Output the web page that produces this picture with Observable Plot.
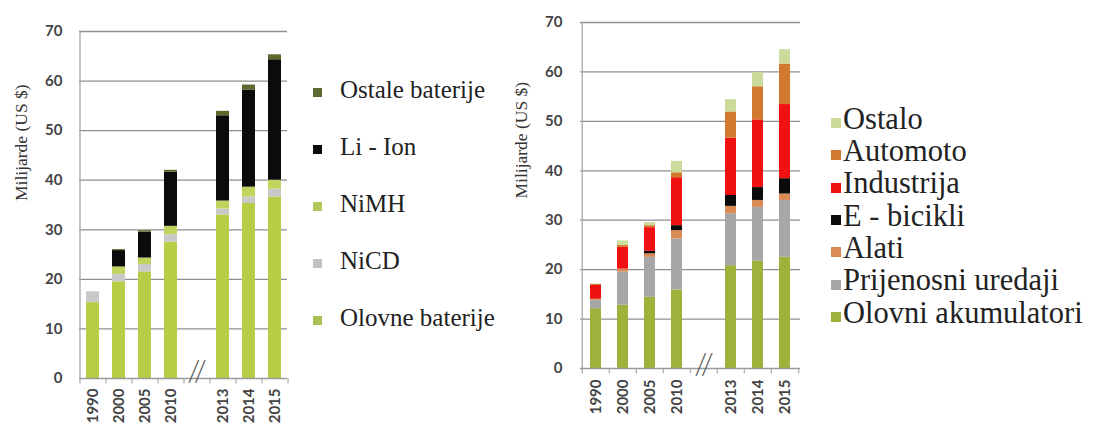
<!DOCTYPE html>
<html><head><meta charset="utf-8">
<script src="https://cdn.jsdelivr.net/npm/d3@7"></script>
<script src="https://cdn.jsdelivr.net/npm/@observablehq/plot@0.6"></script>
<style>
body{margin:0;background:#fff;width:1094px;height:426px;position:relative;overflow:hidden;}
#left{position:absolute;left:0;top:0;}
#right{position:absolute;left:500px;top:0;}
.legend{position:absolute;left:0;top:0;color:#222;}
.item{position:absolute;white-space:nowrap;line-height:1;}
.sw{position:absolute;}
</style></head><body>
<div id="left"></div><div id="right"></div>
<div id="legL" class="legend"></div><div id="legR" class="legend"></div>
<script>
const SERIF = "'Liberation Serif', serif";

// categories (BREAK = the empty slot with the "//" axis break)
const BREAK = "break";
const years = ["1990","2000","2005","2010",BREAK,"2013","2014","2015"];
const yTicks = [0,10,20,30,40,50,60,70];
const yLabel = "Milijarde (US $)";

// left chart: batteries by chemistry (bottom -> top)
const leftSeries = ["Olovne baterije","NiCD","NiMH","Li - Ion","Ostale baterije"];
const leftColors = ["#b6cd45","#c9c9c9","#c2d45e","#0b0b0b","#5c6a2e"];
const leftSwatch = ["#a9c052","#c2c2c2","#b3c85a","#0b0b0b","#5c6a30"];
const olovne = [15.3,19.5,21.5,27.5,null,33.0,35.3,36.6];
const nicd   = [2.2,1.5,1.5,1.5,null,1.2,1.3,1.6];
const nimh   = [0,1.5,1.3,1.7,null,1.6,2.0,1.8];
const liion  = [0,3.3,5.2,10.9,null,17.2,19.6,24.3];
const ostaleB= [0,0.2,0.3,0.4,null,0.9,1.0,1.0];
const leftValues = [olovne,nicd,nimh,liion,ostaleB];

// right chart: by application (bottom -> top)
const rightSeries = ["Olovni akumulatori","Prijenosni uredaji","Alati","E - bicikli","Industrija","Automoto","Ostalo"];
const rightColors = ["#9cb23a","#a7a7a7","#da8a55","#0b0b0b","#f01212","#d17a2e","#cbdb9c"];
const olovni = [12.1,12.8,14.4,15.9,null,20.8,21.7,22.5];
const prij   = [1.7,6.7,8.1,10.3,null,10.5,10.9,11.5];
const alati  = [0.2,0.6,0.7,1.7,null,1.5,1.4,1.3];
const ebic   = [0,0,0.5,1.0,null,2.2,2.6,3.1];
const ind    = [2.8,4.4,4.8,9.7,null,11.6,13.7,15.0];
const auto   = [0.2,0.4,0.4,1.0,null,5.3,6.7,8.2];
const ostalo = [0.1,0.9,0.6,2.3,null,2.5,2.9,2.9];
const rightValues = [olovni,prij,alati,ebic,ind,auto,ostalo];

function toLong(series, values){
  const out = [];
  series.forEach((s,si)=>years.forEach((y,yi)=>{
    const v = values[si][yi];
    if (y !== BREAK && v != null) out.push({year:y, series:s, value:v});
  }));
  return out;
}

function chart(o){
  const data = toLong(o.series, o.values);
  const step = (o.width - o.ml - o.mr) / years.length;
  const real = years.filter(y=>y!==BREAK);
  return Plot.plot({
    width:o.width, height:426, marginLeft:o.ml, marginRight:o.mr, marginTop:o.mt, marginBottom:o.mb,
    style:{background:"transparent", fontFamily:"Lato, 'Open Sans', sans-serif"},
    x:{domain:years, paddingInner:o.pi, paddingOuter:o.pi/2, label:null},
    y:{domain:[0,70], label:null},
    color:{domain:o.series, range:o.colors},
    marks:[
      Plot.ruleY(yTicks.filter(t=>t>0), {stroke:"#8f8f8f", strokeWidth:1.3}),
      Plot.barY(data, {x:"year", y:"value", fill:"series", order:o.series}),
      Plot.ruleY([0], {stroke:"#9a9a9a", strokeWidth:1.3}),
      Plot.ruleX([years[0]], {dx:-step/2, y1:0, y2:70, stroke:"#a8a8a8", strokeWidth:1.3}),
      Plot.ruleX(years, {dx:-step/2, y1:0, y2:-1.1, stroke:"#9a9a9a"}),
      Plot.ruleX([years[years.length-1]], {dx:step/2, y1:0, y2:-1.1, stroke:"#9a9a9a"}),
      Plot.text([{x:BREAK, y:0}], {x:"x", y:"y", text:()=>"//", dy:o.bdy, fontSize:30, fill:"#555", fontWeight:300}),
      Plot.axisY({ticks:yTicks, tickSize:0, tickPadding:o.tp, fontSize:15, fontWeight:"bold", fill:"#444", label:null}),
      Plot.axisX(real, {tickSize:0, tickRotate:-90, tickPadding:o.xp, fontSize:15, fontWeight:"bold", fill:"#444", label:null}),
      Plot.text([yLabel], {frameAnchor:"left", rotate:-90, dx:o.ldx, dy:o.ldy, lineAnchor:"middle", fontSize:17.5, fill:"#333", fontFamily:SERIF})
    ]
  });
}

document.getElementById("left").append(chart({
  series:leftSeries, values:leftValues, colors:leftColors,
  width:300, ml:79, mr:13, mt:31, mb:48, pi:0.5, tp:17, xp:10, bdy:-7, ldx:-58, ldy:-4
}));
document.getElementById("right").append(chart({
  series:rightSeries, values:rightValues, colors:rightColors,
  width:315, ml:80, mr:15, mt:22, mb:58, pi:0.58, tp:18, xp:11, bdy:-4, ldx:-59, ldy:3
}));

function legend(el, series, colors, opt){
  const root = document.getElementById(el);
  series.slice().reverse().forEach((s,i)=>{
    const c = colors[series.length-1-i];
    const base = opt.y0 + i*opt.dy;
    const sw = document.createElement("div");
    sw.className = "sw";
    sw.style.cssText = `left:${opt.sx}px;top:${base-opt.size/2-opt.swOff}px;width:${opt.size}px;height:${opt.size}px;background:${c};`;
    root.append(sw);
    const t = document.createElement("div");
    t.className = "item";
    t.textContent = s;
    t.style.fontFamily = SERIF;
    t.style.left = opt.tx + "px";
    t.style.top = (base - opt.fs*0.89) + "px";
    t.style.fontSize = opt.fs + "px";
    root.append(t);
  });
}
legend("legL", leftSeries, leftSwatch, {y0:99, dy:57, sx:313, tx:340, size:9, fs:25, swOff:7});
legend("legR", rightSeries, rightColors, {y0:131, dy:32.3, sx:831, tx:843, size:10, fs:30.5, swOff:8});
</script>
</body></html>
